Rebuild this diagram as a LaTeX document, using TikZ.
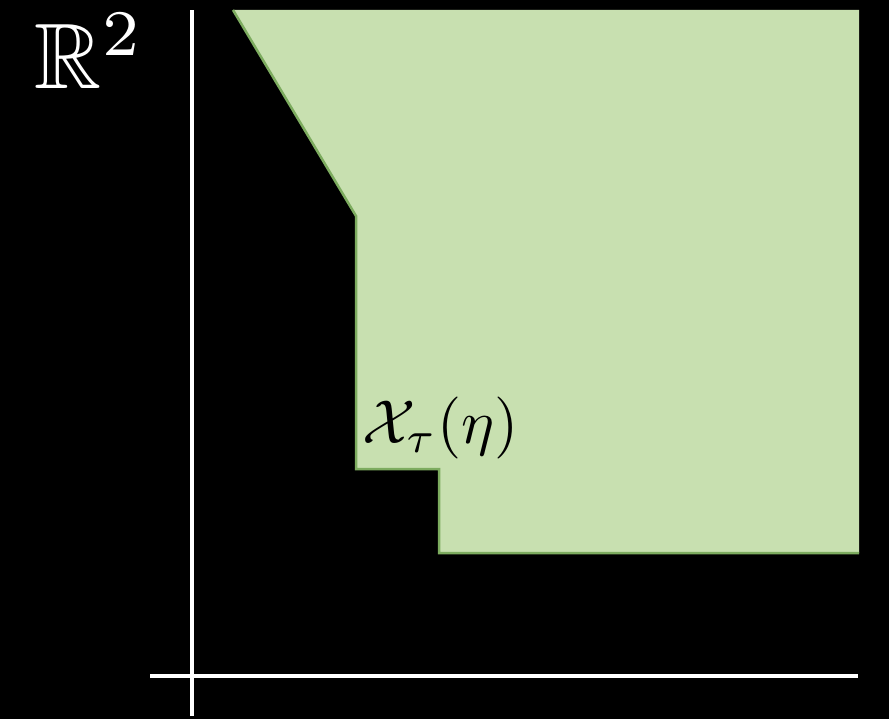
\documentclass[tikz,border=0pt]{standalone}
\usepackage{amsmath,amssymb}
\definecolor{regfill}{RGB}{200,224,176}
\definecolor{regedge}{RGB}{125,172,95}
\tikzset{
  axisline/.style={white, line width=4pt},
  regionfill/.style={fill=regfill},
  regionedge/.style={draw=regedge, line width=2.5pt, line join=miter},
  mathlabel/.style={text=#1, inner sep=0pt, anchor=base west},
}
\begin{document}
\begin{tikzpicture}[x=1pt,y=-1pt]
\fill[black] (0,0) rectangle (889,719);
\useasboundingbox (0,0) rectangle (889,719);
% region
\coordinate (p1) at (233,10);
\coordinate (p2) at (859,10);
\coordinate (p3) at (859,553);
\coordinate (p4) at (439,553);
\coordinate (p5) at (439,469);
\coordinate (p6) at (356,469);
\coordinate (p7) at (356,216);
\fill[regionfill] (p1) -- (p2) -- (p3) -- (p4) -- (p5) -- (p6) -- (p7) -- cycle;
\draw[regionedge] (p3) -- (p4) -- (p5) -- (p6) -- (p7) -- (p1);
% axes
\coordinate (yb) at (192,716);
\coordinate (yt) at (192,10);
\coordinate (xl) at (150,676);
\coordinate (xr) at (858,676);
\draw[axisline] (yb) -- (yt);
\draw[axisline] (xl) -- (xr);
% labels
\node[mathlabel=white, scale=9.3] (R) at (33,89) {$\mathbb{R}^2$};
\node[mathlabel=black, scale=6.2] (X) at (361,443) {$\mathcal{X}_\tau(\eta)$};
\end{tikzpicture}
\end{document}
